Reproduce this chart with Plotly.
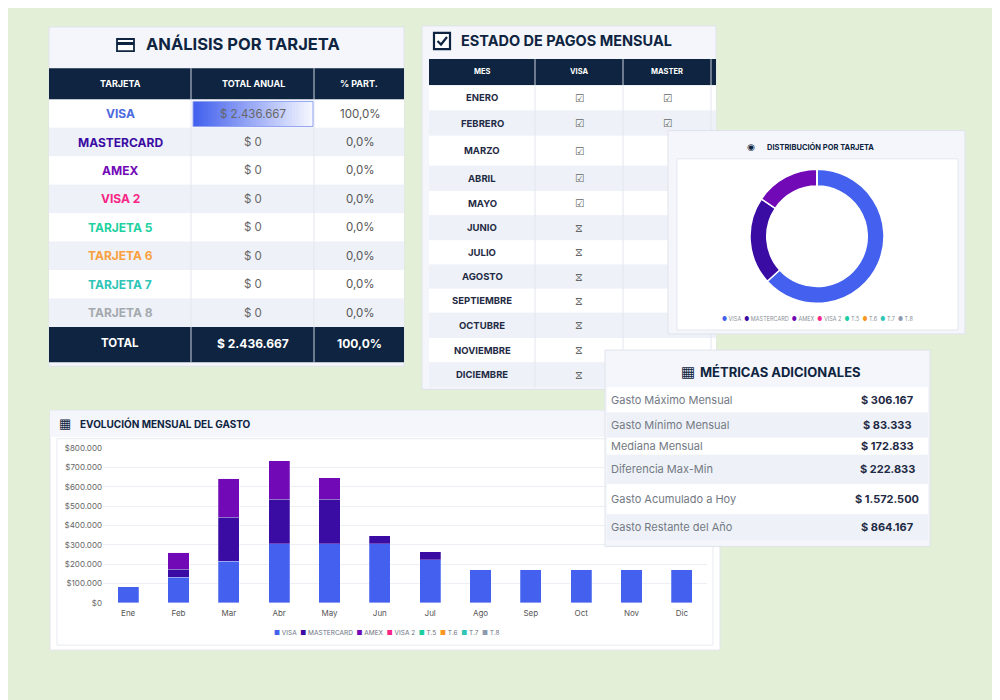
import plotly.graph_objects as go

#---DATA---
months = ["Ene", "Feb", "Mar", "Abr", "May", "Jun", "Jul", "Ago", "Sep", "Oct", "Nov", "Dic"]
visa = [83333, 133333, 215000, 306167, 306167, 306167, 222333, 172833, 172833, 172833, 172833, 172835]
mastercard = [0, 41667, 229167, 229167, 229167, 41667, 41667, 0, 0, 0, 0, 0]
amex = [0, 87500, 200000, 200000, 112500, 0, 0, 0, 0, 0, 0, 0]
visa2 = [0] * 12
t5 = [0] * 12
t6 = [0] * 12
t7 = [0] * 12
t8 = [0] * 12

short_names = ["VISA", "MASTERCARD", "AMEX", "VISA 2", "T.5", "T.6", "T.7", "T.8"]
series_colors = ["#4361ee", "#3a0ca3", "#7209b7", "#f72585", "#1ccfa3", "#f8961e", "#2ec4b6", "#8d99ae"]

cards = ["VISA", "MASTERCARD", "AMEX", "VISA 2", "TARJETA 5", "TARJETA 6", "TARJETA 7", "TARJETA 8"]
card_text_colors = ["#4d6ae0", "#3a0ca3", "#7209b7", "#f72585", "#1fd1a1", "#f9a03f", "#2ec4b6", "#a4a9ae"]
card_totals = [2436667, 0, 0, 0, 0, 0, 0, 0]

pay_months = ["ENERO", "FEBRERO", "MARZO", "ABRIL", "MAYO", "JUNIO", "JULIO", "AGOSTO",
              "SEPTIEMBRE", "OCTUBRE", "NOVIEMBRE", "DICIEMBRE"]
visa_paid = [True, True, True, True, True, False, False, False, False, False, False, False]
master_paid = [True, True]  # only these two are not hidden behind the donut card

metric_labels = ["Gasto Máximo Mensual", "Gasto Mínimo Mensual", "Mediana Mensual",
                 "Diferencia Max-Min", "Gasto Acumulado a Hoy", "Gasto Restante del Año"]
metric_values = [306167, 83333, 172833, 222833, 1572500, 864167]

#---HELPERS---
W, H = 1000, 700
OFF_X = 8          # page margin of the html body
OFF_Y, SCALE_Y = 15.2, 0.979   # measured vertical placement of the page in the screenshot
FONT = "Inter"
NAVY = "#0e2440"
PANEL_BG = "#f4f6fb"
STRIPE = "#eef2f8"
BORDER = "#dfe3ea"


def X(px):
    return (px - OFF_X) / W


def Y(py):
    return 1 - (py - OFF_Y) / SCALE_Y / H


def money(v):
    return "$ " + f"{v:,}".replace(",", ".")


shapes = []


def rect(x0, y0, x1, y1, fill, line=None, lw=1, layer="below"):
    shapes.append(dict(type="rect", xref="paper", yref="paper",
                       x0=X(x0), x1=X(x1), y0=Y(y1), y1=Y(y0),
                       fillcolor=fill, layer=layer,
                       line=dict(color=line or "rgba(0,0,0,0)", width=lw if line else 0)))


def vline(x, y0, y1, color, layer="below"):
    shapes.append(dict(type="line", xref="paper", yref="paper",
                       x0=X(x), x1=X(x), y0=Y(y1), y1=Y(y0), layer=layer,
                       line=dict(color=color, width=1)))


def path(points, color, width):
    d = "M " + " L ".join(f"{X(px)},{Y(py)}" for px, py in points)
    shapes.append(dict(type="path", xref="paper", yref="paper", path=d,
                       line=dict(color=color, width=width)))


notes = []


def note(x, y, text, size, color, bold=False, xanchor="center", family=FONT):
    notes.append(dict(x=X(x), y=Y(y), xref="paper", yref="paper", text=text,
                      showarrow=False, xanchor=xanchor, yanchor="middle",
                      font=dict(family=family, size=size, color=color,
                                weight="bold" if bold else "normal")))


#---PLOT---
fig = go.Figure()
all_series = [visa, mastercard, amex, visa2, t5, t6, t7, t8]
for name, vals, col in zip(short_names, all_series, series_colors):
    fig.add_trace(go.Bar(x=months, y=vals, name=name, marker_color=col,
                         marker_line=dict(color="rgba(255,255,255,0.5)", width=0.5),
                         showlegend=False))

pie_values = [sum(s) for s in all_series]
fig.add_trace(go.Pie(labels=short_names, values=pie_values, hole=0.75, sort=False,
                     direction="clockwise", textinfo="none", showlegend=False,
                     marker=dict(colors=series_colors, line=dict(color="white", width=1.5)),
                     domain=dict(x=[X(750), X(884)], y=[Y(304), Y(170)])))

#---PANEL: ANALISIS POR TARJETA---
rect(49, 29, 404, 366, PANEL_BG, BORDER)
rect(49, 70, 404, 101, NAVY)
row_h = (327 - 101) / len(cards)
for i in range(len(cards)):
    rect(49, 101 + i * row_h, 404, 101 + (i + 1) * row_h, "white" if i % 2 == 0 else STRIPE)
rect(49, 327, 404, 362, NAVY)
for cx in (191, 314):
    vline(cx, 70, 101, "#c9d1dc")
    vline(cx, 101, 327, "#e2e6ed")
    vline(cx, 327, 362, "#c9d1dc")
# data bar for the largest card total
bar_len = 120 * card_totals[0] / max(card_totals)
n = 40
for k in range(n):
    t = k / (n - 1)
    r = int(67 + (245 - 67) * t)
    g = int(97 + (247 - 97) * t)
    b = int(238 + (255 - 238) * t)
    rect(193 + bar_len * k / n, 103, 193 + bar_len * (k + 1) / n, 128, f"rgb({r},{g},{b})")
rect(193, 103, 193 + bar_len, 128, "rgba(0,0,0,0)", "#8fa2f2")
# card icon
rect(117, 41, 134, 53, "white", NAVY, 1.8)
rect(117, 44, 134, 47, NAVY)

note(243, 46, "ANÁLISIS POR TARJETA", 16.5, NAVY, True)
note(120, 85, "TARJETA", 9, "white", True)
note(253, 85, "TOTAL ANUAL", 9, "white", True)
note(359, 85, "% PART.", 9, "white", True)
total_all = sum(card_totals)
for i, (c, col, v) in enumerate(zip(cards, card_text_colors, card_totals)):
    yc = 101 + (i + 0.5) * row_h
    note(120, yc, c, 12, col, True)
    note(253, yc, money(v), 11.5, "#666666")
    note(360, yc, f"{v / total_all * 100:.1f}%".replace(".", ","), 11.5, "#555555")
note(120, 343, "TOTAL", 11.5, "white", True)
note(253, 343, money(total_all), 12, "white", True)
note(359, 343, "100,0%", 12, "white", True)

#---PANEL: ESTADO DE PAGOS---
rect(422, 28, 716, 389, PANEL_BG, BORDER)
rect(429, 61, 716, 87, NAVY)
row_edges = [87, 112, 137, 167, 192, 216, 241, 265, 289, 313, 338, 362, 387]
for i in range(len(pay_months)):
    rect(429, row_edges[i], 716, row_edges[i + 1], "white" if i % 2 == 0 else STRIPE)
for cx in (535, 623, 711):
    vline(cx, 61, 87, "#c9d1dc")
    vline(cx, 87, 387, "#e2e6ed")
# check-box icon
shapes.append(dict(type="rect", xref="paper", yref="paper", x0=X(434), x1=X(450),
                   y0=Y(51), y1=Y(35), fillcolor="white", layer="below",
                   line=dict(color=NAVY, width=2.2)))
path([(437.5, 43), (441, 46.5), (447, 39)], NAVY, 2.2)
note(566, 43, "ESTADO DE PAGOS MENSUAL", 14.5, NAVY, True)
note(482, 73, "MES", 7.5, "white", True)
note(579, 73, "VISA", 7.5, "white", True)
note(667, 73, "MASTER", 7.5, "white", True)
for i, m in enumerate(pay_months):
    yc = (row_edges[i] + row_edges[i + 1]) / 2
    note(482, yc, m, 9.5, "#1f2a44", True)
    note(579, yc, "☑" if visa_paid[i] else "⧖", 10.5, "#666666", family="DejaVu Sans")
for i, p in enumerate(master_paid):
    yc = (row_edges[i] + row_edges[i + 1]) / 2
    note(667, yc, "☑" if p else "⧖", 10.5, "#666666", family="DejaVu Sans")

#---PANEL: DISTRIBUCION---
rect(668, 132, 965, 334, PANEL_BG, BORDER)
rect(677, 160, 958, 330, "white", "#e3e7ee")
note(751, 148, "◉", 9, NAVY, family="DejaVu Sans")
note(820, 148, "DISTRIBUCIÓN POR TARJETA", 7.5, NAVY, True)
pie_legend = "\u00a0\u00a0".join(
    f'<span style="color:{c}">●</span>\u00a0{nm}' for nm, c in zip(short_names, series_colors))
note(817, 319, pie_legend, 5.5, "#8a8f98")

#---PANEL: EVOLUCION MENSUAL---
rect(50, 410, 720, 648, "white", BORDER)
rect(50, 410, 720, 436, PANEL_BG)
rect(57, 438, 713, 643, "white", "#e8ebf0")
note(65, 423, "▦", 13, NAVY, family="DejaVu Sans")
note(78, 423, "EVOLUCIÓN MENSUAL DEL GASTO", 10, NAVY, True, xanchor="left")
bar_legend = "\u00a0\u00a0".join(
    f'<span style="color:{c}">■</span>\u00a0{nm}' for nm, c in zip(short_names, series_colors))
note(387, 631, bar_legend, 6.5, "#6b7280")

#---PANEL: METRICAS (drawn above the chart grid)---
rect(605, 350, 930, 545, PANEL_BG, BORDER, layer="above")
metric_edges = [387, 412, 437, 454, 483, 513, 539]
for i in range(len(metric_labels)):
    rect(607, metric_edges[i], 928, metric_edges[i + 1], "white" if i % 2 == 0 else STRIPE,
         layer="above")
note(688, 372, "▦", 15, NAVY, family="DejaVu Sans")
note(780, 372, "MÉTRICAS ADICIONALES", 13, NAVY, True)
for i, (lab, v) in enumerate(zip(metric_labels, metric_values)):
    yc = (metric_edges[i] + metric_edges[i + 1]) / 2
    note(609, yc, lab, 11, "#737983", xanchor="left")
    note(887, yc, money(v), 11, "#1f2a44", True)

#---STYLE---
fig.update_layout(
    width=W, height=H,
    margin=dict(l=0, r=0, t=0, b=0),
    paper_bgcolor="#e3efd7",
    plot_bgcolor="rgba(0,0,0,0)",
    barmode="stack",
    bargap=0.58,
    separators=",.",
    font=dict(family=FONT),
    shapes=shapes,
    annotations=notes,
    xaxis=dict(domain=[X(103), X(707)], showgrid=False, showline=False, ticks="",
               ticklabelstandoff=4,
               tickfont=dict(size=8, color="#555555"), fixedrange=True),
    yaxis=dict(domain=[Y(601), Y(447.5)], range=[0, 800000], dtick=100000,
               tickprefix="$", tickformat=",d", showline=False, zeroline=False,
               gridcolor="#eceff3", tickfont=dict(size=8, color="#666666"), fixedrange=True),
)

fig.write_html("out.html")
